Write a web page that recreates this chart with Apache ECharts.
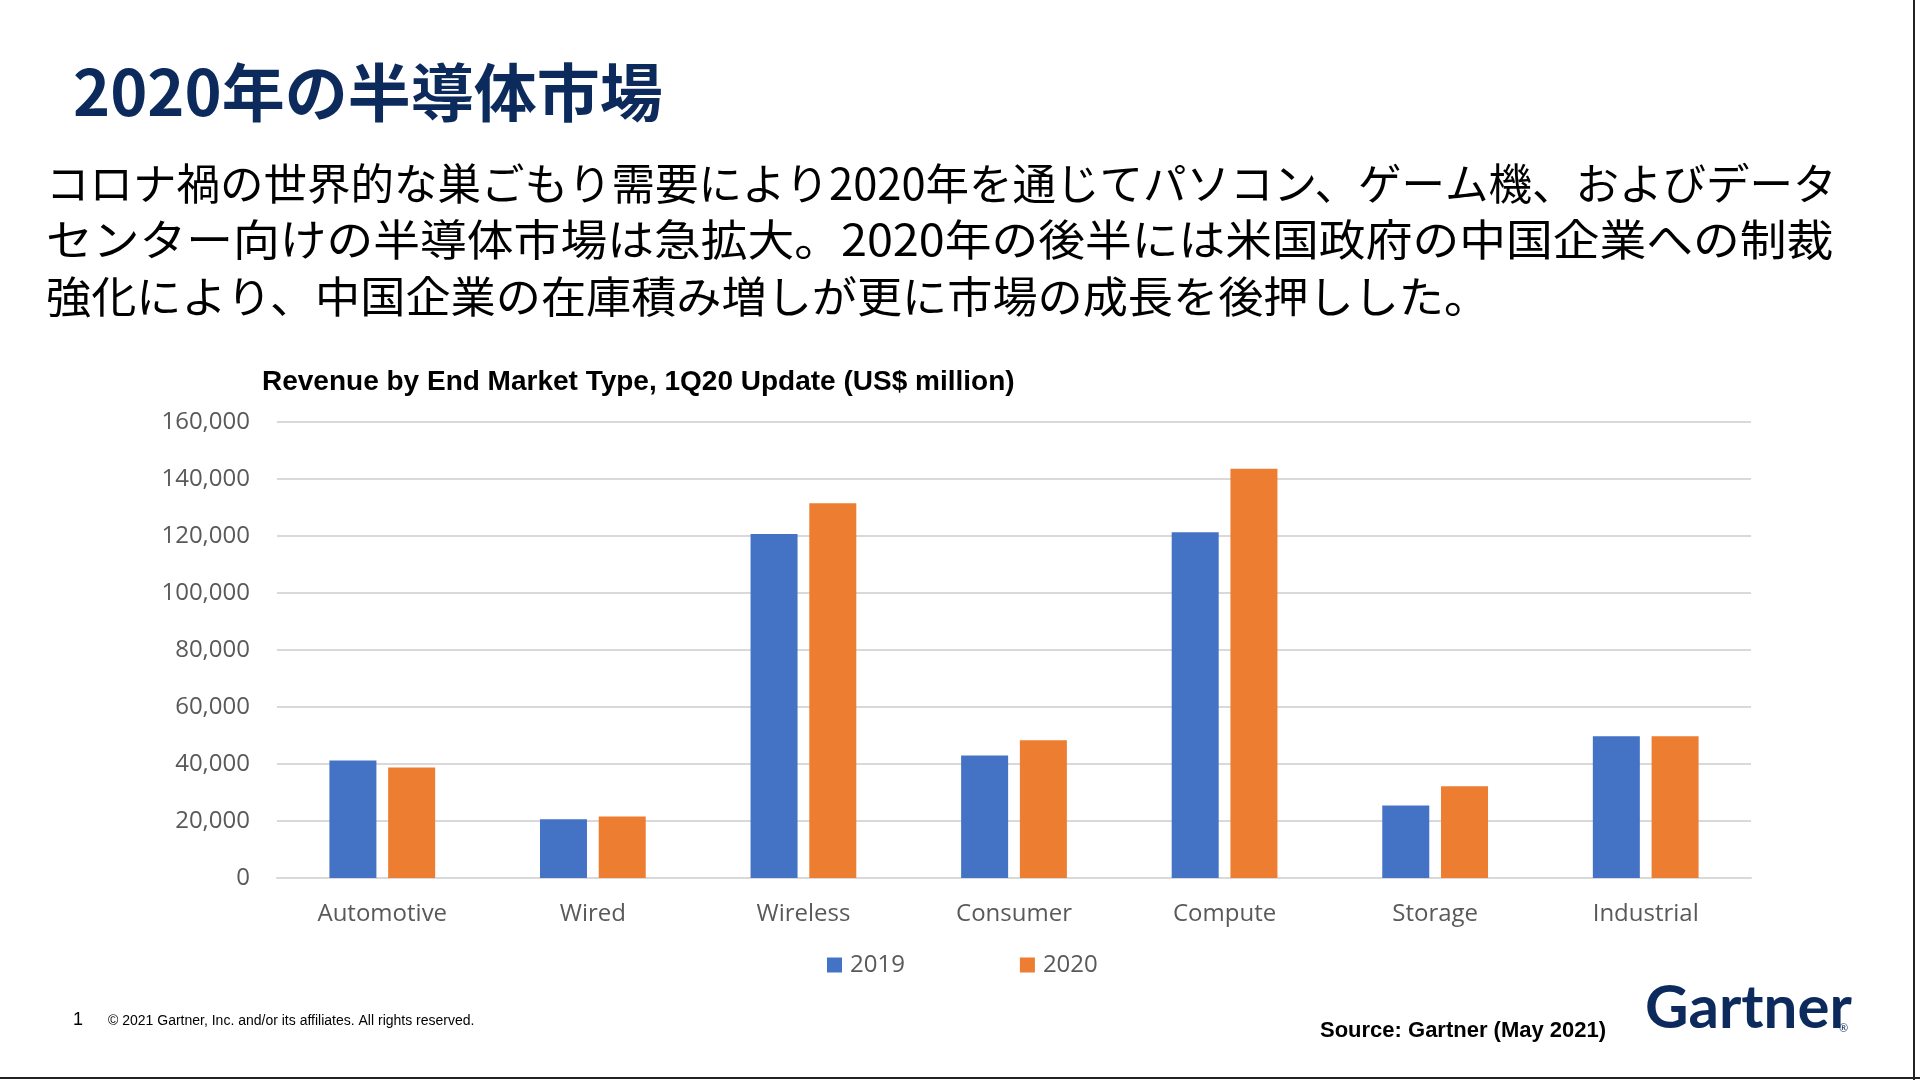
<!DOCTYPE html>
<html>
<head>
<meta charset="utf-8">
<script src="https://cdn.jsdelivr.net/npm/echarts@6/dist/echarts.min.js"></script>
<style>
html,body{margin:0;padding:0;background:#fff;}
#chart{width:1920px;height:1080px;}
</style>
</head>
<body>
<div id="chart"></div>
<script>
// ---- data ----
const categories = ['Automotive', 'Wired', 'Wireless', 'Consumer', 'Compute', 'Storage', 'Industrial'];
const seriesNames = ['2019', '2020'];
const values2019 = [41200, 20600, 120700, 43000, 121300, 25400, 49700];
const values2020 = [38800, 21600, 131500, 48300, 143600, 32200, 49700];
const yTicks = [0, 20000, 40000, 60000, 80000, 100000, 120000, 140000, 160000];

// ---- texts ----
const pageTitle = '2020年の半導体市場';
const bodyLines = [
  'コロナ禍の世界的な巣ごもり需要により2020年を通じてパソコン、ゲーム機、およびデータ',
  'センター向けの半導体市場は急拡大。2020年の後半には米国政府の中国企業への制裁',
  '強化により、中国企業の在庫積み増しが更に市場の成長を後押しした。'
];
const chartTitle = 'Revenue by End Market Type, 1Q20 Update (US$ million)';
const pageNumber = '1';
const copyright = '© 2021 Gartner, Inc. and/or its affiliates. All rights reserved.';
const sourceText = 'Source: Gartner (May 2021)';
const logoText = 'Gartner';

const navy = '#0c2a5c';
const gray = '#595959';
const gridColor = '#d9d9d9';

const chart = echarts.init(document.getElementById('chart'));

const graphics = [
  { type: 'text', style: { text: pageTitle, x: 73, y: 92, fill: navy,
      font: 'bold 63px "Noto Sans CJK JP", sans-serif', verticalAlign: 'middle' } }
];
const lineY = [183, 239.5, 296];
const lineStretch = [1.0, 1.075, 1.038];
bodyLines.forEach((t, i) => {
  graphics.push({ type: 'text', x: 46, y: lineY[i], scaleX: lineStretch[i],
    style: { text: t, x: 0, y: 0, fill: '#000',
      font: '43.5px "Noto Sans CJK JP", sans-serif', verticalAlign: 'middle' } });
});
graphics.push(
  { type: 'text', style: { text: chartTitle, x: 262, y: 382, fill: '#000',
      font: 'bold 28px "Liberation Sans", Arial, sans-serif', verticalAlign: 'middle' } },
  { type: 'text', style: { text: pageNumber, x: 73, y: 1020, fill: '#000',
      font: '18px "Liberation Sans", Arial, sans-serif', verticalAlign: 'middle' } },
  { type: 'text', style: { text: copyright, x: 108, y: 1021.5, fill: '#000',
      font: '14px "Liberation Sans", Arial, sans-serif', verticalAlign: 'middle' } },
  { type: 'text', style: { text: sourceText, x: 1320, y: 1031, fill: '#000',
      font: 'bold 22px "Liberation Sans", Arial, sans-serif', verticalAlign: 'middle' } },
  { type: 'text', style: { text: logoText, x: 1645, y: 1039, fill: navy,
      font: 'bold 60px Lato, sans-serif', verticalAlign: 'bottom' } },
  { type: 'text', style: { text: '®', x: 1839, y: 1034, fill: navy,
      font: '11px Lato, sans-serif', verticalAlign: 'bottom' } },
  { type: 'line', shape: { x1: 1914, y1: 0, x2: 1914, y2: 1080 }, style: { stroke: '#222', lineWidth: 2 } },
  { type: 'line', shape: { x1: 0, y1: 1078, x2: 1920, y2: 1078 }, style: { stroke: '#222', lineWidth: 2 } }
);

const option = {
  backgroundColor: '#fff',
  animation: false,
  grid: { left: 277, top: 422, width: 1474, height: 456, containLabel: false },
  legend: {
    data: seriesNames,
    left: 827, top: 953,
    padding: 0,
    icon: 'rect',
    itemWidth: 15, itemHeight: 15,
    itemGap: 115,
    textStyle: { fontSize: 24, color: gray, fontFamily: '"Open Sans", sans-serif', padding: [0, 0, 0, 3] }
  },
  xAxis: {
    type: 'category',
    data: categories,
    axisLine: { show: true, lineStyle: { color: gridColor, width: 2 } },
    axisTick: { show: false },
    axisLabel: { color: gray, fontSize: 24, fontFamily: '"Open Sans", sans-serif', margin: 24 }
  },
  yAxis: {
    type: 'value',
    min: yTicks[0], max: yTicks[yTicks.length - 1], interval: yTicks[1] - yTicks[0],
    axisLine: { show: false },
    axisTick: { show: false },
    splitLine: { lineStyle: { color: gridColor, width: 2 } },
    axisLabel: {
      color: gray, fontSize: 24, fontFamily: '"Open Sans", sans-serif', margin: 27,
      formatter: v => v.toLocaleString('en-US')
    }
  },
  series: [
    { name: seriesNames[0], type: 'bar', data: values2019, barWidth: 47, barGap: '25%',
      itemStyle: { color: '#4472c4' } },
    { name: seriesNames[1], type: 'bar', data: values2020, barWidth: 47, barGap: '25%',
      itemStyle: { color: '#ed7d31' } }
  ],
  graphic: graphics
};
chart.setOption(option);
</script>
</body>
</html>
